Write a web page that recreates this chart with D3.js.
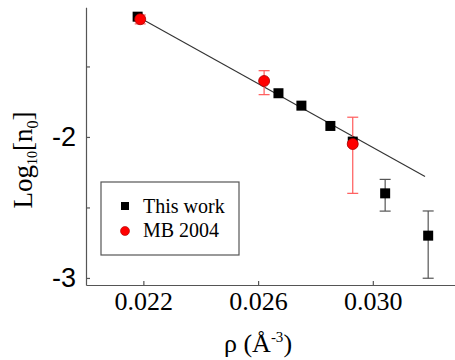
<!DOCTYPE html>
<html><head><meta charset="utf-8">
<script src="https://cdn.jsdelivr.net/npm/d3@7"></script>
<style>body{margin:0;background:#fff}svg{display:block}</style>
</head><body>
<svg id="c" width="455" height="360"></svg>
<script>
// Data
const rhoThis = [0.0218, 0.02671, 0.02751, 0.02852, 0.0293, 0.03043, 0.03193];
const logThis = [-1.147, -1.69, -1.778, -1.922, -2.033, -2.40, -2.70];
const errThisUp = [0, 0, 0, 0, 0, 0.099, 0.175];
const errThisDown = [0, 0, 0, 0, 0, 0.126, 0.302];
const rhoMB = [0.02189, 0.02621, 0.0293];
const logMB = [-1.165, -1.603, -2.05];
const errMBUp = [0.03, 0.073, 0.19];
const errMBDown = [0.033, 0.097, 0.35];
const fitRho = [0.0217, 0.03182];
const fitLog = [-1.135, -2.28];
const xTicks = [0.022, 0.026, 0.030];
const yTicks = [-3, -2.5, -2, -1.5];
const legendLabels = ["This work", "MB 2004"];

const svg = d3.select("#c");
const x = d3.scaleLinear().domain([0.02, 0.0329]).range([86, 456]);
const y = d3.scaleLinear().domain([-3.05, -1.08]).range([285, 7.23]);
const axisColor = "#555";

// Axes
const gx = svg.append("g").attr("transform", "translate(0,285)")
  .call(d3.axisBottom(x).tickValues(xTicks).tickSizeInner(-4).tickSizeOuter(0).tickPadding(7).tickFormat(d3.format(".3f")));
gx.selectAll("text").attr("font-family", "Liberation Serif, serif").attr("font-size", 26).attr("fill", "#000");
const gy = svg.append("g").attr("transform", "translate(86,0)")
  .call(d3.axisLeft(y).tickValues(yTicks).tickSizeInner(-4).tickSizeOuter(0).tickPadding(10)
    .tickFormat(d => Number.isInteger(d) ? String(d) : ""));
gy.selectAll("text").attr("font-family", "Liberation Sans, Arial, sans-serif").attr("font-size", 27).attr("fill", "#000");
svg.selectAll(".domain, .tick line").attr("stroke", axisColor).attr("stroke-width", 1.2);

// Fit line
svg.append("line")
  .attr("x1", x(fitRho[0])).attr("y1", y(fitLog[0]))
  .attr("x2", x(fitRho[1])).attr("y2", y(fitLog[1]))
  .attr("stroke", "#333").attr("stroke-width", 1.1);

function errBars(xs, ys, up, down, color) {
  const g = svg.append("g").attr("stroke", color).attr("stroke-width", 1.2);
  xs.forEach((v, i) => {
    if (!up[i] && !down[i]) return;
    const cx = x(v), t = y(ys[i] + up[i]), b = y(ys[i] - down[i]);
    g.append("line").attr("x1", cx).attr("x2", cx).attr("y1", t).attr("y2", b);
    g.append("line").attr("x1", cx - 5.5).attr("x2", cx + 5.5).attr("y1", t).attr("y2", t);
    g.append("line").attr("x1", cx - 5.5).attr("x2", cx + 5.5).attr("y1", b).attr("y2", b);
  });
}
errBars(rhoThis, logThis, errThisUp, errThisDown, "#555");
errBars(rhoMB, logMB, errMBUp, errMBDown, "#ff5a5a");

const sq = 10;
svg.append("g").selectAll("rect").data(rhoThis).join("rect")
  .attr("x", d => x(d) - sq / 2).attr("y", (d, i) => y(logThis[i]) - sq / 2)
  .attr("width", sq).attr("height", sq).attr("fill", "#000");
svg.append("g").selectAll("circle").data(rhoMB).join("circle")
  .attr("cx", d => x(d)).attr("cy", (d, i) => y(logMB[i])).attr("r", 5.5)
  .attr("fill", "#f00").attr("stroke", "#a00").attr("stroke-width", 0.8);

// Legend
svg.append("rect").attr("x", 101).attr("y", 182).attr("width", 138).attr("height", 73)
  .attr("fill", "#fff").attr("stroke", "#555").attr("stroke-width", 1.2);
svg.append("rect").attr("x", 121).attr("y", 202).attr("width", 8).attr("height", 8).attr("fill", "#000");
svg.append("circle").attr("cx", 125).attr("cy", 231).attr("r", 4.5).attr("fill", "#f00").attr("stroke", "#a00").attr("stroke-width", 0.6);
legendLabels.forEach((t, i) => {
  svg.append("text").attr("x", 143).attr("y", 213 + i * 24)
    .attr("font-family", "Liberation Serif, serif").attr("font-size", 20).attr("fill", "#000").text(t);
});

// Axis titles
const xt = svg.append("text").attr("x", 258).attr("y", 352).attr("text-anchor", "middle")
  .attr("font-family", "Liberation Serif, serif").attr("font-size", 26).attr("fill", "#000");
xt.append("tspan").text("ρ (Å");
xt.append("tspan").attr("font-size", 15).attr("dy", -10).text("-3");
xt.append("tspan").attr("dy", 10).text(")");

const yt = svg.append("text").attr("transform", "translate(32,160) rotate(-90)").attr("text-anchor", "middle")
  .attr("font-family", "Liberation Serif, serif").attr("font-size", 27).attr("fill", "#000");
yt.append("tspan").text("Log");
yt.append("tspan").attr("font-size", 14).attr("dy", 5).text("10");
yt.append("tspan").attr("dy", -5).text("[n");
yt.append("tspan").attr("font-size", 16).attr("dy", 6).text("0");
yt.append("tspan").attr("dy", -6).text("]");
</script>
</body></html>
